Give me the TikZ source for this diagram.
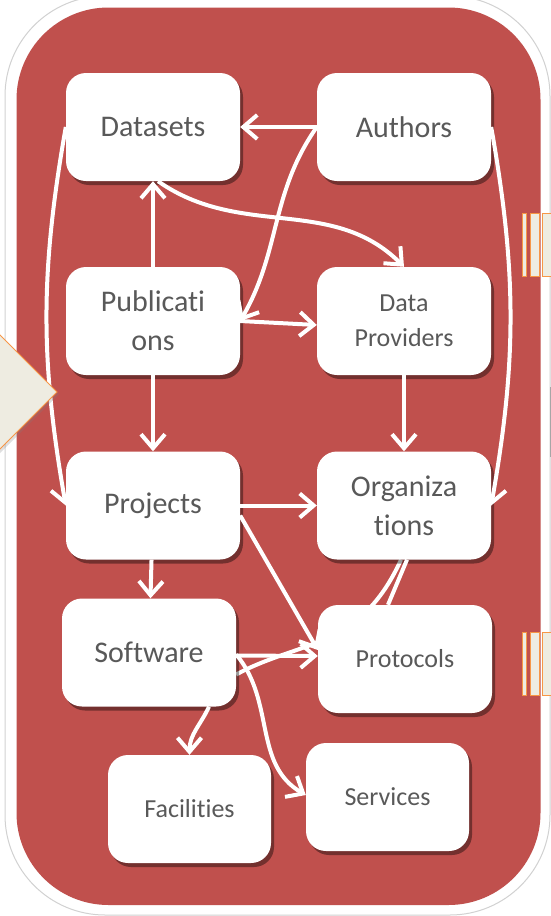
\documentclass[tikz,border=0pt]{standalone}
\usepackage{fontspec}
\setmainfont{Carlito}[Ligatures=NoCommon]
\usetikzlibrary{arrows.meta,shadows}
\definecolor{boardred}{HTML}{C0504D}
\definecolor{labelgray}{HTML}{595959}
\definecolor{sidebeige}{HTML}{EEECE1}
\definecolor{sideorange}{HTML}{F79646}
\pgfdeclarelayer{background}
\pgfsetlayers{background,main}
\tikzset{
  box/.style={rectangle, rounded corners=20pt, fill=white, minimum width=174pt, minimum height=108pt,
    text=labelgray, font=\fontsize{30}{39}\selectfont, align=center,
    drop shadow={shadow xshift=3pt, shadow yshift=-4pt, opacity=0.4, fill=black}},
  smallbox/.style={box, font=\fontsize{26}{35}\selectfont},
  link/.style={draw=white, line width=4pt, -{Straight Barb[length=14pt, width=24pt]}},
  plain/.style={draw=white, line width=4pt},
  sidestrip/.style={fill=sidebeige, draw=sideorange, line width=1pt},
}
\begin{document}
\begin{tikzpicture}[x=1pt, y=-1pt]
  \useasboundingbox (0,0) rectangle (551,916);
  % Board
  \begin{pgfonlayer}{background}
    \draw[fill=white, draw=black!18, line width=1pt, rounded corners=100pt] (5,-4) rectangle (550,915);
    \fill[boardred, rounded corners=92pt] (16.5,7.5) rectangle (540.5,905);
  \end{pgfonlayer}

  % Nodes
  \node[box] at (153,127) (data) {Datasets};
  \node[box] at (404,127) (auth) {Authors};
  \node[box] at (153,321) (pub) {Publicati\\ons};
  \node[smallbox] at (404,321) (prov) {Data\\Providers};
  \node[box] at (153,505.5) (proj) {Projects};
  \node[box] at (404,505.5) (org) {Organiza\\tions};
  \node[box] at (149,652.5) (soft) {Software};
  \node[smallbox] at (405,659) (prot) {Protocols};
  \node[smallbox, minimum width=163pt] at (189.5,809) (fac) {Facilities};
  \node[smallbox, minimum width=163pt] at (387.5,797) (serv) {Services};

  % Connectors
  \draw[link] (auth) -- (data);
  \draw[link] (auth.west) to[out=235, in=60] (pub.east);
  \draw[link] (pub) -- (data);
  \draw[link] ([xshift=5pt]data.south) to[out=-35, in=135] (prov.north);
  \draw[link] (pub.east) -- ([yshift=-4pt]prov.west);
  \draw[link] (pub) -- (proj);
  \draw[link] (prov) -- (org);
  \draw[link] (data.west) to[out=260, in=100] (proj.west);
  \draw[link] (auth.east) to[out=280, in=80] (org.east);
  \draw[link] (proj) -- (org);
  \draw[link] ([yshift=-10pt]proj.east) -- ([yshift=9pt]prot.west);
  \draw[link] (proj) -- (soft);
  \draw[link] ([yshift=-3pt]soft.east) -- ([yshift=3pt]prot.west);
  \draw[plain] ([xshift=3pt]org.south) -- ([xshift=-17pt]prot.north);
  \begin{pgfonlayer}{background}
    \draw[plain] ([xshift=-3pt]org.south) .. controls (360,650) and (300,640) .. ([yshift=-22pt]soft.east);
  \end{pgfonlayer}
  \draw[link] ([xshift=60pt]soft.south) to[out=245, in=90] (fac.north);
  \draw[link] ([yshift=-2pt]soft.east) to[out=-50, in=150] ([yshift=2pt]serv.west);

  % Neighbouring shapes
  \draw[sidestrip, drop shadow={shadow xshift=2pt, shadow yshift=-2pt, opacity=0.25}]
    (-30,305) -- (57,392) -- (-30,479) -- cycle;
  \foreach \y in {213,632} {
    \draw[sidestrip] (522,\y) rectangle (526,\y+63);
    \draw[sidestrip] (530,\y) rectangle (539,\y+63);
    \draw[sidestrip] (542,\y) rectangle (556,\y+63);
  }
  \draw[black!35, line width=1pt] (550,387) -- (550,457);
\end{tikzpicture}
\end{document}
